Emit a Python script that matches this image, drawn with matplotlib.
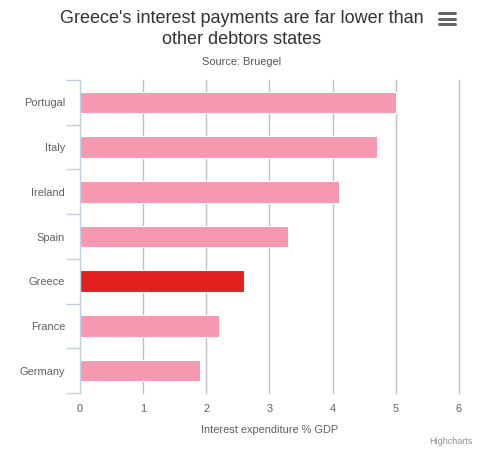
import matplotlib.pyplot as plt
from matplotlib.lines import Line2D

countries = ['Portugal', 'Italy', 'Ireland', 'Spain', 'Greece', 'France', 'Germany']
interest = [5.0, 4.7, 4.1, 3.3, 2.6, 2.2, 1.9]
x_ticks = [0, 1, 2, 3, 4, 5, 6]

plt.rcParams['font.family'] = ['Liberation Sans', 'DejaVu Sans']

PX = 72 / 100  # px -> pt at dpi 100

fig = plt.figure(figsize=(4.83, 4.59), dpi=100)
ax = fig.add_axes([79.5 / 483, 66 / 459, (459 - 79.5) / 483, (393 - 80) / 459])

colors = ['#e31e1e' if c == 'Greece' else '#f598b0' for c in countries]
pos = list(range(len(countries)))
ax.barh(pos, interest, height=0.48, color=colors, edgecolor='white', linewidth=0.8, zorder=3)

ax.set_ylim(len(countries) - 0.5, -0.5)
ax.set_xlim(0, 6)
ax.set_xticks(x_ticks)
ax.set_xticklabels([str(t) for t in x_ticks])
ax.set_yticks(pos)
ax.set_yticklabels(countries)

# vertical grid (unclipped so the last line at 6 shows fully)
for t in x_ticks[1:]:
    ax.axvline(t, color='#c0c0c0', linewidth=1, zorder=0, clip_on=False)

for s in ['top', 'right', 'bottom']:
    ax.spines[s].set_visible(False)
ax.spines['left'].set_color('#c0d0e0')
ax.spines['left'].set_linewidth(1)
ax.spines['left'].set_zorder(4)

ax.tick_params(axis='x', length=0, pad=8, labelsize=11 * PX, labelcolor='#606060')
ax.tick_params(axis='y', length=0, pad=10.5, labelsize=11 * PX, labelcolor='#606060')

# category boundary ticks on the left axis
ax.set_yticks([i - 0.5 for i in range(len(countries) + 1)], minor=True)
ax.tick_params(axis='y', which='minor', length=10, color='#c0d0e0', width=1)

ax.set_xlabel('Interest expenditure % GDP', fontsize=11 * PX, color='#606060', labelpad=8)

fig.text(241.5 / 483, 1 - 29 / 459, "Greece's interest payments are far lower than\nother debtors states",
         ha='center', va='center', fontsize=18 * PX, color='#333333', linespacing=1.25)
fig.text(241.5 / 483, 1 - 62 / 459, 'Source: Bruegel', ha='center', va='center',
         fontsize=11 * PX, color='#555555')
fig.text(473 / 483, 1 - 441 / 459, 'Highcharts', ha='right', va='center',
         fontsize=9 * PX, color='#909090')

# context menu icon
for yy in [13, 18.5, 24]:
    fig.add_artist(Line2D([439 / 483, 455 / 483], [1 - yy / 459, 1 - yy / 459],
                          color='#666666', linewidth=3 * PX, solid_capstyle='round'))

fig.savefig('out.png', dpi=100)
